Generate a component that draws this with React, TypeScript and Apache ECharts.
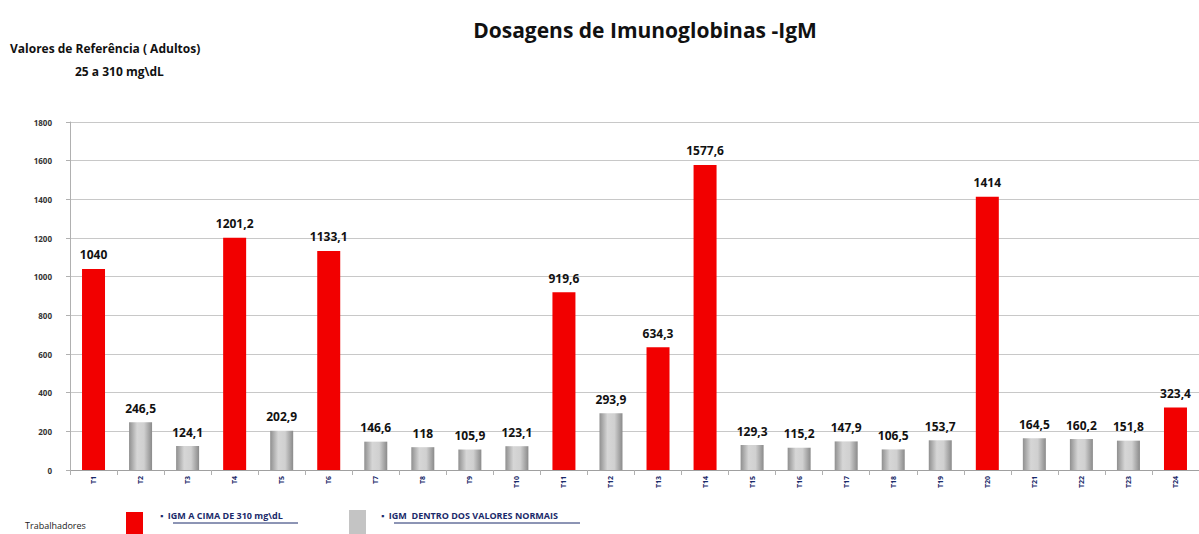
import React, { useEffect, useRef } from "react";
import * as echarts from "echarts";

const categories = ["T1","T2","T3","T4","T5","T6","T7","T8","T9","T10","T11","T12","T13","T14","T15","T16","T17","T18","T19","T20","T21","T22","T23","T24"];
const values = [1040, 246.5, 124.1, 1201.2, 202.9, 1133.1, 146.6, 118, 105.9, 123.1, 919.6, 293.9, 634.3, 1577.6, 129.3, 115.2, 147.9, 106.5, 153.7, 1414, 164.5, 160.2, 151.8, 323.4];
const yTicks = { min: 0, max: 1800, interval: 200 };
const limit = 310;

const fontFam = "'Open Sans', 'Liberation Sans', sans-serif";

export default function App() {
  const ref = useRef<HTMLDivElement>(null);
  useEffect(() => {
    if (!ref.current) return;
    const chart = echarts.init(ref.current, undefined, { renderer: "svg" });
    const grayGrad = new echarts.graphic.LinearGradient(0, 0, 1, 0, [
      { offset: 0, color: "#8f8f8f" },
      { offset: 0.35, color: "#d6d6d6" },
      { offset: 0.65, color: "#d0d0d0" },
      { offset: 1, color: "#8a8a8a" },
    ]);
    const data = values.map((v) => ({
      value: v,
      itemStyle: v > limit ? { color: "#f20000" } : { color: grayGrad },
    }));
    chart.setOption({
      animation: false,
      backgroundColor: "#ffffff",
      grid: { left: 70, width: 1135, top: 122, bottom: 64 },
      title: {
        text: "Dosagens de Imunoglobinas -IgM",
        left: 640,
        top: 14,
        textAlign: "center",
        textStyle: { fontFamily: fontFam, fontSize: 21, fontWeight: "bold", color: "#111" },
      },
      xAxis: {
        type: "category",
        data: categories,
        axisLine: { lineStyle: { color: "#a0a0a0" } },
        axisTick: { show: true, lineStyle: { color: "#b0b0b0" } },
        axisLabel: { rotate: 90, fontSize: 7, fontWeight: "bold", color: "#1a2a6a", fontFamily: fontFam, margin: 6 },
      },
      yAxis: {
        type: "value",
        min: yTicks.min,
        max: yTicks.max,
        interval: yTicks.interval,
        axisLine: { show: true, lineStyle: { color: "#b0b0b0" } },
        axisTick: { show: true, length: 4, lineStyle: { color: "#b0b0b0" } },
        axisLabel: { fontSize: 8, fontWeight: "bold", color: "#333", fontFamily: fontFam, margin: 18, formatter: (v: number) => String(v) },
        splitLine: { lineStyle: { color: "#c8c8c8", width: 1 } },
      },
      series: [
        {
          type: "bar",
          data,
          barWidth: 23,
          label: {
            show: true,
            position: "top",
            distance: 8,
            fontSize: 12,
            fontWeight: "bold",
            color: "#111",
            fontFamily: fontFam,
            formatter: (p: any) => String(p.value).replace(".", ","),
          },
        },
      ],
      graphic: [
        { type: "text", left: 10, top: 42, style: { text: "Valores de Referência ( Adultos)", fontSize: 12, fontWeight: "bold", fill: "#111", fontFamily: fontFam } },
        { type: "text", left: 75, top: 65, style: { text: "25 a 310 mg\\dL", fontSize: 12, fontWeight: "bold", fill: "#111", fontFamily: fontFam } },
        { type: "text", left: 25, top: 521, style: { text: "Trabalhadores", fontSize: 9, fill: "#222", fontFamily: fontFam } },
        { type: "rect", shape: { x: 126, y: 512, width: 17, height: 22 }, style: { fill: "#f20000" } },
        { type: "text", left: 160, top: 511, style: { text: "▪  IGM A CIMA DE 310 mg\\dL", fontSize: 9, fontWeight: "bold", fill: "#1a2a6a", fontFamily: fontFam } },
        { type: "line", shape: { x1: 173, y1: 523, x2: 298, y2: 523 }, style: { stroke: "#1a2a6a", lineWidth: 1 } },
        { type: "rect", shape: { x: 349, y: 510, width: 17, height: 24 }, style: { fill: "#c4c4c4" } },
        { type: "text", left: 381, top: 511, style: { text: "▪  IGM  DENTRO DOS VALORES NORMAIS", fontSize: 9, fontWeight: "bold", fill: "#1a2a6a", fontFamily: fontFam } },
        { type: "line", shape: { x1: 394, y1: 523, x2: 580, y2: 523 }, style: { stroke: "#1a2a6a", lineWidth: 1 } },
      ],
    });
    return () => chart.dispose();
  }, []);
  return <div ref={ref} style={{ position: "fixed", left: 0, top: 0, width: 1199, height: 534 }} />;
}
